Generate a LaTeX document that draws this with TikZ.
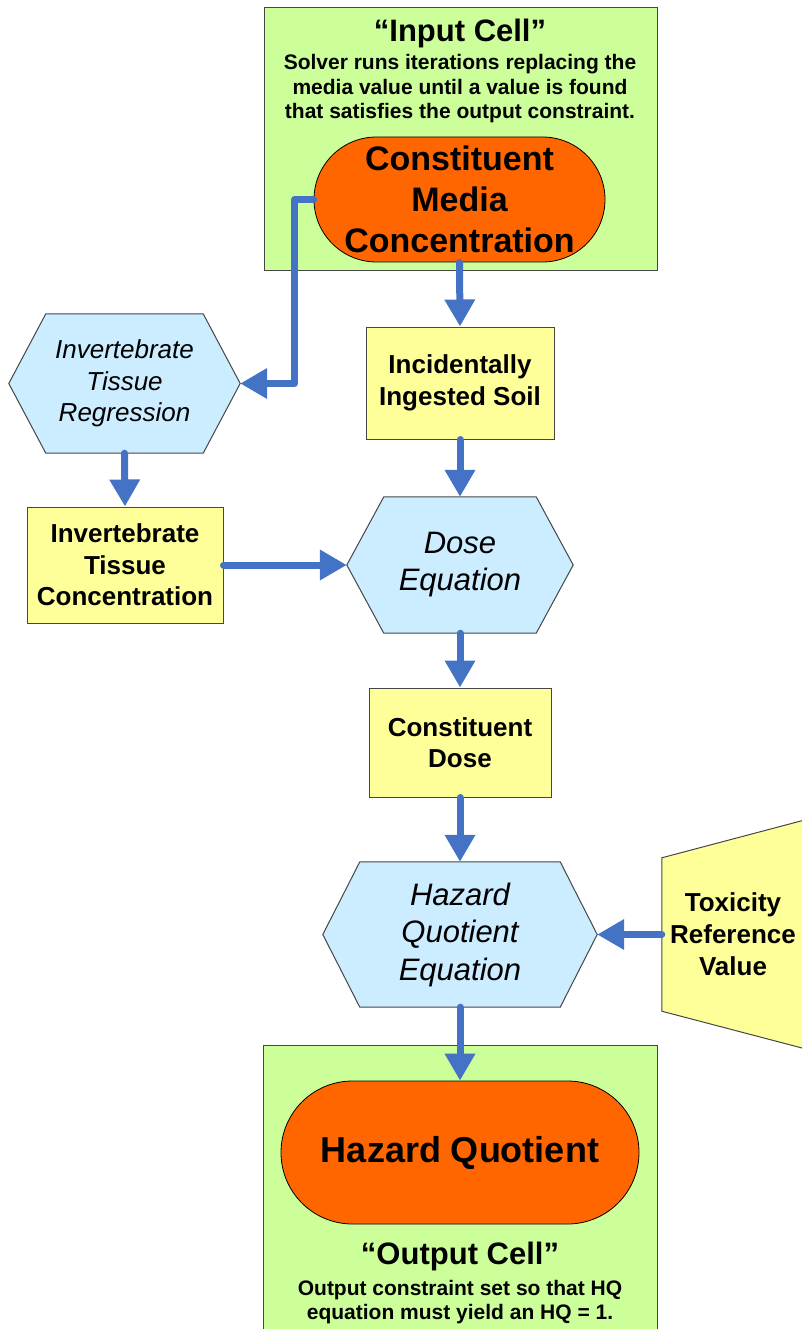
\documentclass[tikz,border=0pt]{standalone}
\usepackage{fontspec}
\setmainfont{Liberation Sans}
\usetikzlibrary{arrows.meta,shapes.misc,backgrounds}
\definecolor{cellgreen}{RGB}{204,255,153}
\definecolor{orng}{RGB}{255,102,0}
\definecolor{ylw}{RGB}{255,255,153}
\definecolor{lblue}{RGB}{204,236,255}
\definecolor{arrblue}{RGB}{68,114,196}
\definecolor{edgegray}{RGB}{70,70,70}
\begin{document}
\begin{tikzpicture}[x=1pt,y=-1pt,
  cellbox/.style={rectangle, draw=edgegray, line width=1pt, fill=cellgreen, inner sep=0pt},
  stadium/.style={rounded rectangle, draw=black, line width=0.8pt, fill=orng, inner sep=0pt, align=center},
  valbox/.style={rectangle, draw=edgegray, line width=1pt, fill=ylw, inner sep=0pt, align=center,
    font=\fontsize{26}{31.5}\selectfont\bfseries},
  hexnode/.style={rectangle, inner sep=0pt, align=center},
  hexline/.style={draw=edgegray, line width=1pt, fill=lblue},
  titletext/.style={font=\fontsize{31}{36}\selectfont\bfseries, inner sep=0pt},
  desctext/.style={font=\fontsize{21}{24.5}\selectfont\bfseries, align=center, inner sep=0pt},
  flow/.style={draw=arrblue, line width=7pt, line cap=round, line join=round,
    -{Triangle[length=27pt,width=29pt]}}
]
\useasboundingbox (0,0) rectangle (801,1329);
\clip (0,0) rectangle (801,1329);

% input cell
\node[cellbox, minimum width=393pt, minimum height=263pt] (inbox) at (460.5,139.5) {};
\node[titletext] (intitle) at (460,33) {“Input Cell”};
\node[desctext] (indesc) at (460,89) {Solver runs iterations replacing the\\media value until a value is found\\that satisfies the output constraint.};
\node[stadium, minimum width=291pt, minimum height=125pt,
  font=\fontsize{34}{41}\selectfont\bfseries] (cmc) at (459.5,199.5) {Constituent\\Media\\Concentration};

% value boxes
\node[valbox, minimum width=188pt, minimum height=112pt] (ingest) at (460,383) {Incidentally\\Ingested Soil};
\node[valbox, minimum width=196pt, minimum height=116pt] (itc) at (125,565) {Invertebrate\\Tissue\\Concentration};
\node[valbox, minimum width=182pt, minimum height=109pt] (cdose) at (460,742.5) {Constituent\\Dose};

% hexagon nodes
\node[hexnode, minimum width=231pt, minimum height=139pt,
  font=\fontsize{26}{31.5}\selectfont\itshape] (itr) at (124.5,383.5) {Invertebrate\\Tissue\\Regression};
\node[hexnode, minimum width=226pt, minimum height=136pt,
  font=\fontsize{31}{37}\selectfont\itshape] (dose) at (460,565) {Dose\\Equation};
\node[hexnode, minimum width=274pt, minimum height=145pt,
  font=\fontsize{31}{37.5}\selectfont\itshape] (hq) at (460,934.5) {Hazard\\Quotient\\Equation};

% toxicity reference value
\node[rectangle, inner sep=0pt, minimum width=142pt, minimum height=153pt, align=center,
  font=\fontsize{26}{32}\selectfont\bfseries] (tox) at (733,934.5) {Toxicity\\Reference\\Value};

\begin{scope}[on background layer]
  \foreach \n in {itr,dose,hq}{
    \draw[hexline] (\n.west) -- ([xshift=37pt]\n.north west) -- ([xshift=-37pt]\n.north east)
      -- (\n.east) -- ([xshift=-37pt]\n.south east) -- ([xshift=37pt]\n.south west) -- cycle;
  }
  \draw[hexline, fill=ylw] (tox.north west) -- ++(170,-45) -- ++(0,243) -- (tox.south west) -- cycle;
\end{scope}

% output cell
\node[cellbox, minimum width=394pt, minimum height=300pt] (outbox) at (460,1195) {};
\node[stadium, minimum width=358pt, minimum height=143pt,
  font=\fontsize{36}{42}\selectfont\bfseries] (hqn) at (460,1152.5) {Hazard Quotient};
\node[titletext] (outtitle) at (460,1256) {“Output Cell”};
\node[desctext] (outdesc) at (460,1302) {Output constraint set so that HQ\\equation must yield an HQ = 1.};

% connectors
\draw[flow] (cmc.south) -- (ingest.north);
\draw[flow] (cmc.west) -- ++(-19,0) |- (itr.east);
\draw[flow] (ingest.south) -- (dose.north);
\draw[flow] (itr.south) -- (itc.north);
\draw[flow] (itc.east) -- (dose.west);
\draw[flow] (dose.south) -- (cdose.north);
\draw[flow] (cdose.south) -- (hq.north);
\draw[flow] (tox.west) -- (hq.east);
\draw[flow] (hq.south) -- (hqn.north);
\end{tikzpicture}
\end{document}
